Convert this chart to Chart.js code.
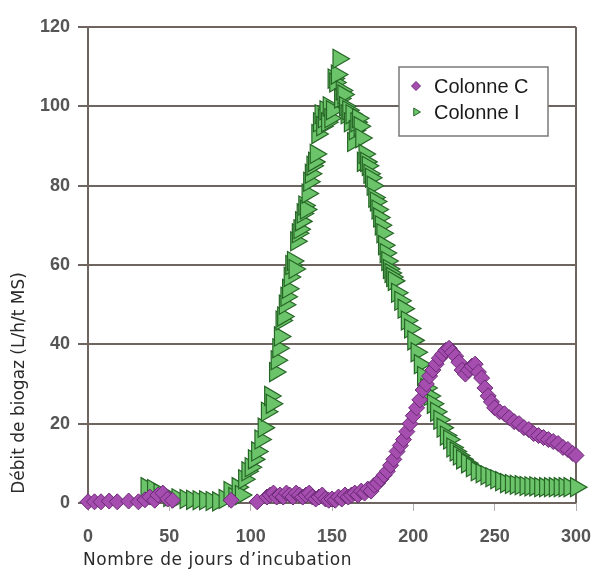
<!DOCTYPE html>
<html>
<head>
<meta charset="utf-8">
<script src="https://cdn.jsdelivr.net/npm/chart.js@4/dist/chart.umd.min.js"></script>
<style>
  html, body { margin: 0; padding: 0; background: #fff; }
  #wrap { width: 608px; height: 570px; position: relative; }
</style>
</head>
<body>
<div id="wrap"><canvas id="myChart" width="608" height="570"></canvas></div>
<script>
// Colonne C (losanges violets)
const daysC = [0, 4, 8, 13, 18, 25, 31, 35, 38, 41, 43, 46, 49, 52, 88, 104,
  110, 112, 114, 116, 118, 120, 122, 124, 126, 128, 130, 132, 134, 136, 138, 140,
  142, 144, 146, 148, 150, 152, 154, 156, 158, 160, 162, 164, 166, 168, 170, 172,
  174, 176, 178, 180, 182, 184, 186, 188, 190, 192, 194, 196, 198, 200, 202, 204,
  206, 208, 210, 212, 214, 216, 218, 220, 222, 224, 226, 228, 230, 232, 234, 236,
  238, 240, 242, 244, 246, 248, 250, 253, 256, 259, 262, 265, 268, 271, 274, 277,
  280, 283, 286, 289, 292, 295, 298, 300];
const valuesC = [0.3, 0.3, 0.3, 0.5, 0.3, 0.5, 0.3, 0.8, 1.5, 0.7, 2, 2.5, 1, 0.7, 0.7, 0.3,
  1.5, 2, 2.5, 1.5, 2, 1.5, 2.5, 2, 1.5, 2.5, 2, 1.5, 2, 2.5, 1.5, 1,
  1.5, 2, 1, 0.7, 1, 0.7, 1.5, 1, 2, 1.5, 2, 2.5, 2, 3, 2.5, 3.5,
  3, 4.5, 5, 6, 7, 8, 9.5, 11, 13, 14.5, 16, 18, 20, 22, 24, 26,
  28.5, 30, 32, 33.5, 35, 36.5, 37.5, 38.5, 39, 38, 37, 35.5, 33.5, 32.5, 33.5, 34.5,
  35, 33, 31.5, 29, 27, 25.5, 24, 23, 22.5, 21.5, 20.5, 20, 19, 18.5, 17.5, 17,
  16.5, 16, 15.5, 15, 14, 13.5, 12.5, 12];

// Colonne I (triangles verts)
const daysI = [36, 40, 44, 50, 55, 60, 64, 68, 72, 76, 80, 84, 87, 90, 92, 94,
  96, 98, 100, 102, 104, 106, 108, 110, 112, 113, 115, 116, 117, 118, 119, 120,
  121, 122, 123, 124, 125, 126, 127, 128, 129, 130, 131, 132, 133, 134, 135, 136,
  137, 138, 139, 140, 141, 142, 143, 144, 145, 146, 147, 148, 149, 150, 151, 152,
  153, 154, 155, 156, 157, 158, 159, 160, 161, 162, 163, 164, 165, 166, 167, 168,
  169, 170, 171, 172, 173, 174, 175, 176, 177, 178, 179, 180, 181, 182, 183, 184,
  185, 186, 187, 188, 190, 192, 194, 196, 198, 200, 202, 204, 206, 208, 210, 212,
  214, 216, 218, 220, 222, 224, 226, 228, 230, 233, 236, 239, 242, 245, 248, 251,
  254, 257, 260, 263, 266, 269, 272, 275, 278, 281, 284, 287, 290, 293, 296, 300];
const valuesI = [4, 3.5, 2.5, 1.5, 1.2, 1, 0.8, 0.7, 0.7, 0.5, 0.4, 1, 3, 1.5, 4, 2,
  6, 8, 9, 11, 13, 16, 19, 23, 27, 25, 33, 36, 39, 42, 46, 47,
  50, 52, 54, 57, 60, 61, 59, 66, 68, 69, 71, 73, 75, 74, 78, 81,
  83, 85, 86, 88, 93, 96, 98, 95, 97, 99, 96, 100, 97, 99, 107, 106,
  108, 112, 102, 104, 103, 100, 98, 99, 96, 98, 91, 94, 96, 97, 95, 92,
  86, 88, 86, 85, 83, 82, 80, 77, 76, 74, 72, 70, 68, 65, 63, 61,
  59, 58, 57, 56, 53, 51, 49, 46, 44, 41, 38, 35, 32, 29, 27, 25,
  23, 21, 19, 17, 16, 14, 13, 12, 11, 10, 9, 8, 7.5, 7, 6.5, 6,
  5.5, 5, 4.8, 4.6, 4.5, 4.3, 4.2, 4.2, 4, 4, 4, 4, 4, 4, 4, 4];

const seriesNames = ['Colonne C', 'Colonne I'];
const xTitle = 'Nombre de jours d\u2019incubation';
const yTitle = 'Débit de biogaz (L/h/t MS)';

const purpleFill = '#a64db0';
const purpleLine = '#6b2a75';
const greenFill = '#6cc46a';
const greenLine = '#266626';
const gridColor = '#6e6460';

function pairs(xs, ys) {
  return xs.map((x, i) => ({ x: x, y: ys[i] }));
}

// cadre droit, titres d'axes et légende dans la zone du graphe
const extras = {
  id: 'extras',
  beforeDatasetsDraw(chart) {
    const { ctx, chartArea } = chart;
    ctx.save();
    ctx.strokeStyle = gridColor;
    ctx.lineWidth = 2;
    ctx.beginPath();
    ctx.moveTo(chartArea.right, chartArea.top);
    ctx.lineTo(chartArea.right, chartArea.bottom);
    ctx.stroke();
    ctx.restore();
  },
  afterDraw(chart) {
    const { ctx } = chart;
    ctx.save();
    ctx.font = '17px "DejaVu Sans"';
    ctx.fillStyle = '#2a2a2a';
    ctx.textBaseline = 'middle';
    ctx.letterSpacing = '0.6px';
    ctx.textAlign = 'left';
    ctx.fillText(xTitle, 83, 561);
    ctx.translate(20, 383);
    ctx.rotate(-Math.PI / 2);
    ctx.letterSpacing = '0px';
    ctx.textAlign = 'center';
    ctx.fillText(yTitle, 0, 0);
    ctx.restore();

    // légende
    ctx.save();
    ctx.fillStyle = '#fff';
    ctx.fillRect(399, 67, 149, 69);
    ctx.strokeStyle = '#7a7a7a';
    ctx.lineWidth = 1.5;
    ctx.strokeRect(399, 67, 149, 69);
    const rows = [86, 112];
    chart.data.datasets.forEach((ds, i) => {
      ctx.fillStyle = ds.backgroundColor;
      ctx.strokeStyle = ds.borderColor;
      ctx.lineWidth = 1;
      Chart.helpers.drawPoint(ctx, {
        pointStyle: ds.pointStyle,
        rotation: ds.rotation || 0,
        radius: 4.5,
        borderWidth: 1
      }, 416, rows[i]);
      ctx.fillStyle = '#1a1a1a';
      ctx.font = '20px "Liberation Sans"';
      ctx.textBaseline = 'middle';
      ctx.textAlign = 'left';
      ctx.fillText(ds.label, 434, rows[i] + 1);
    });
    ctx.restore();
  }
};

const ctx = document.getElementById('myChart');
const chart = new Chart(ctx, {
  type: 'scatter',
  data: {
    datasets: [{
      label: seriesNames[0],
      data: pairs(daysC, valuesC),
      pointStyle: 'rectRot',
      pointRadius: 8,
      backgroundColor: purpleFill,
      borderColor: purpleLine,
      borderWidth: 1,
      clip: false
    }, {
      label: seriesNames[1],
      data: pairs(daysI, valuesI),
      pointStyle: 'triangle',
      rotation: 90,
      pointRadius: 11,
      backgroundColor: greenFill,
      borderColor: greenLine,
      borderWidth: 1.2,
      clip: false
    }]
  },
  options: {
    responsive: false,
    animation: false,
    layout: { padding: { left: 0, right: 32, top: 27, bottom: 0 } },
    plugins: {
      legend: { display: false },
      tooltip: { enabled: false }
    },
    scales: {
      x: {
        type: 'linear',
        min: 0,
        max: 300,
        afterFit: s => { s.height = 67; },
        ticks: {
          stepSize: 50,
          padding: 15,
          color: '#555',
          font: { family: '"Liberation Sans"', size: 18, weight: 'bold' },
          maxRotation: 0
        },
        grid: {
          drawOnChartArea: false,
          drawTicks: true,
          tickLength: 8,
          color: '#b5b0ae',
          lineWidth: 1
        },
        border: { display: false }
      },
      y: {
        min: 0,
        max: 120,
        afterFit: s => { s.width = 88; },
        ticks: {
          stepSize: 20,
          padding: 8,
          color: '#555',
          font: { family: '"Liberation Sans"', size: 18, weight: 'bold' }
        },
        grid: {
          color: gridColor,
          lineWidth: 2,
          tickLength: 10
        },
        border: { color: gridColor, width: 2 }
      }
    }
  },
  plugins: [extras]
});
</script>
</body>
</html>
